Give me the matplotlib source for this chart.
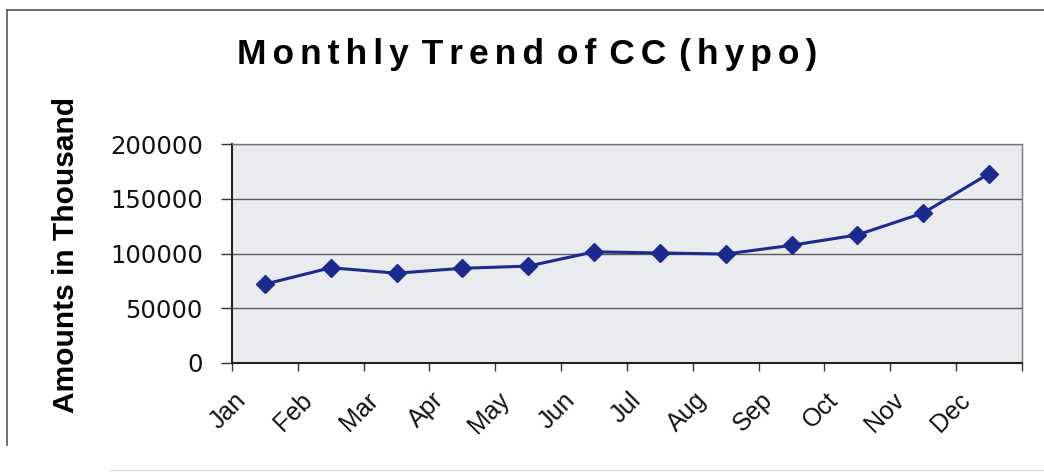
import matplotlib
matplotlib.use("Agg")
import matplotlib.pyplot as plt
import matplotlib.transforms as mtransforms
from matplotlib.lines import Line2D
from matplotlib.ticker import FixedLocator

# data
months = ["Jan", "Feb", "Mar", "Apr", "May", "Jun",
          "Jul", "Aug", "Sep", "Oct", "Nov", "Dec"]
amounts = [72000, 87000, 82000, 86500, 88500, 101500,
           100500, 99500, 107500, 117000, 137000, 173000]
y_ticks = [0, 50000, 100000, 150000, 200000]
title = "Monthly Trend of CC (hypo)"

LINE_COLOR = "#1c2a8e"
PLOT_BG = "#e9ebee"

plt.rcParams["font.family"] = ["Liberation Sans", "DejaVu Sans"]

fig = plt.figure(figsize=(10.44, 4.76), dpi=100)
fig.patch.set_facecolor("white")
ax = fig.add_axes([232 / 1044, 1 - 363 / 476, 790 / 1044, 219 / 476])
ax.set_facecolor(PLOT_BG)

x = list(range(len(months)))
ax.plot(x, amounts, color=LINE_COLOR, linewidth=2.2, marker="D",
        markersize=9, markerfacecolor=LINE_COLOR, markeredgecolor=LINE_COLOR,
        zorder=3)

ax.set_xlim(-0.5, len(months) - 0.5)
ax.set_ylim(0, 200000)
ax.set_yticks(y_ticks)
ax.set_yticklabels([str(v) for v in y_ticks], fontsize=17.5,
                   family="DejaVu Sans", color="#111111")
ax.yaxis.grid(True, color="#5a5a5a", linewidth=1.0)
ax.set_axisbelow(True)

ax.set_xticks(x)
ax.set_xticklabels(months, fontsize=18, rotation=45, ha="right",
                   va="top", rotation_mode="anchor", color="#111111")
ax.tick_params(axis="x", which="major", length=0, pad=18)
shift = mtransforms.ScaledTranslation(-0.31, 0, fig.dpi_scale_trans)
for lab in ax.get_xticklabels():
    lab.set_transform(lab.get_transform() + shift)
ax.xaxis.set_minor_locator(FixedLocator([i - 0.5 for i in range(len(months) + 1)]))
ax.tick_params(axis="x", which="minor", length=6, width=1, color="#333333")
ax.tick_params(axis="y", length=8, width=1, color="#333333", pad=13)

for side in ["left", "bottom"]:
    ax.spines[side].set_color("#222222")
    ax.spines[side].set_linewidth(1.5)
for side in ["top", "right"]:
    ax.spines[side].set_color("#777777")
    ax.spines[side].set_linewidth(1.0)

# the scanned title is letter-spaced: hair spaces between letters
spaced_title = " \u200a".join("\u200a\u200a".join(w) for w in title.split(" "))
fig.text(527 / 1044, 1 - 64 / 476, spaced_title,
         fontsize=25.5, fontweight="bold", ha="center", va="baseline")
fig.text(66 / 1044, 1 - 255 / 476, "Amounts in Thousand",
         fontsize=21.5, fontweight="bold", rotation=90,
         ha="center", va="center")

# chart-area frame (scanned edge)
fig.add_artist(Line2D([7 / 1044, 1.0], [1 - 10 / 476, 1 - 10 / 476],
                      color="#555555", linewidth=1.2))
fig.add_artist(Line2D([7 / 1044, 7 / 1044], [1 - 10 / 476, 1 - 445 / 476],
                      color="#555555", linewidth=1.2))
fig.add_artist(Line2D([110 / 1044, 1.0], [1 - 470 / 476, 1 - 470 / 476],
                      color="#dddddd", linewidth=1.0))

fig.savefig("out.png", dpi=100)
